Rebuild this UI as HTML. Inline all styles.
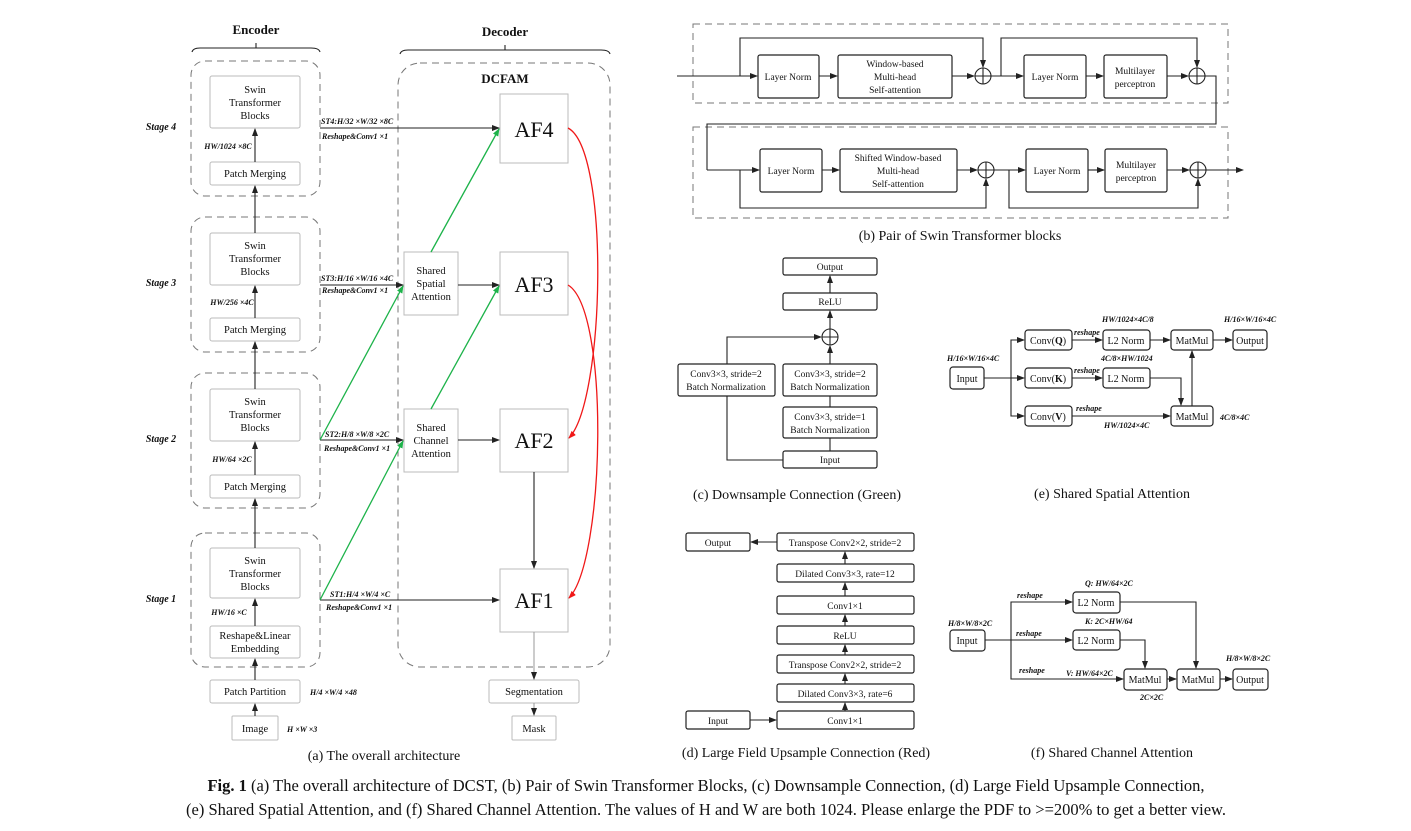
<!DOCTYPE html>
<html><head><meta charset="utf-8"><style>
html,body{margin:0;padding:0;background:#fff;}
svg{display:block;font-family:"Liberation Serif",serif;}
.b{fill:#fff;stroke:#bbb;stroke-width:1;}
.k{fill:#fff;stroke:#222;stroke-width:1.2;}
.d{fill:none;stroke:#777;stroke-width:1;stroke-dasharray:7,5;}
.l{fill:none;stroke:#222;stroke-width:1.1;}
.g{fill:none;stroke:#1db34a;stroke-width:1.3;}
.r{fill:none;stroke:#f01818;stroke-width:1.3;}
text{fill:#111;}
.t{font-size:10.5px;text-anchor:middle;}
.s{font-size:8px;font-style:italic;font-weight:bold;}
.cap{font-size:14px;text-anchor:middle;}
</style></head><body>
<svg width="1411" height="831" viewBox="0 0 1411 831" xmlns="http://www.w3.org/2000/svg">
<defs>
<marker id="a" markerWidth="8" markerHeight="6" refX="7" refY="3" orient="auto" markerUnits="userSpaceOnUse"><path d="M0,0 L8,3 L0,6z" fill="#222"/></marker>
<marker id="ag" markerWidth="8" markerHeight="6" refX="7" refY="3" orient="auto" markerUnits="userSpaceOnUse"><path d="M0,0 L8,3 L0,6z" fill="#1db34a"/></marker>
<marker id="ar" markerWidth="8" markerHeight="6" refX="7" refY="3" orient="auto" markerUnits="userSpaceOnUse"><path d="M0,0 L8,3 L0,6z" fill="#f01818"/></marker>
</defs>

<!-- ===== Panel a ===== -->
<text x="256" y="34" font-size="13" font-weight="bold" text-anchor="middle">Encoder</text>
<text x="505" y="36" font-size="13" font-weight="bold" text-anchor="middle">Decoder</text>
<path class="l" d="M192,52 Q193,48 200,48 L311,48 Q319,48 320,52 M256,48 V43"/>
<path class="l" d="M400,54 Q401,50 408,50 L601,50 Q609,50 610,54 M505,50 V45"/>

<rect class="d" x="191" y="61" width="129" height="135" rx="14"/>
<rect class="d" x="191" y="217" width="129" height="135" rx="14"/>
<rect class="d" x="191" y="373" width="129" height="135" rx="14"/>
<rect class="d" x="191" y="533" width="129" height="134" rx="14"/>
<rect class="d" x="398" y="63" width="212" height="604" rx="22"/>
<text x="505" y="83" font-size="13" font-weight="bold" text-anchor="middle">DCFAM</text>

<g font-size="10" font-style="italic" font-weight="bold" text-anchor="middle">
<text x="161" y="130">Stage 4</text><text x="161" y="286">Stage 3</text>
<text x="161" y="442">Stage 2</text><text x="161" y="602">Stage 1</text>
</g>

<!-- encoder boxes -->
<rect class="b" x="210" y="76" width="90" height="52" rx="2"/>
<text class="t" x="255" y="93">Swin</text><text class="t" x="255" y="106">Transformer</text><text class="t" x="255" y="119">Blocks</text>
<rect class="b" x="210" y="162" width="90" height="23" rx="2"/><text class="t" x="255" y="177">Patch Merging</text>
<rect class="b" x="210" y="233" width="90" height="52" rx="2"/>
<text class="t" x="255" y="249">Swin</text><text class="t" x="255" y="262">Transformer</text><text class="t" x="255" y="275">Blocks</text>
<rect class="b" x="210" y="318" width="90" height="23" rx="2"/><text class="t" x="255" y="333">Patch Merging</text>
<rect class="b" x="210" y="389" width="90" height="52" rx="2"/>
<text class="t" x="255" y="405">Swin</text><text class="t" x="255" y="418">Transformer</text><text class="t" x="255" y="431">Blocks</text>
<rect class="b" x="210" y="475" width="90" height="23" rx="2"/><text class="t" x="255" y="490">Patch Merging</text>
<rect class="b" x="210" y="548" width="90" height="50" rx="2"/>
<text class="t" x="255" y="564">Swin</text><text class="t" x="255" y="577">Transformer</text><text class="t" x="255" y="590">Blocks</text>
<rect class="b" x="210" y="626" width="90" height="32" rx="2"/>
<text class="t" x="255" y="639">Reshape&amp;Linear</text><text class="t" x="255" y="652">Embedding</text>
<rect class="b" x="210" y="680" width="90" height="23" rx="2"/><text class="t" x="255" y="695">Patch Partition</text>
<rect class="b" x="232" y="716" width="46" height="24" rx="1"/><text class="t" x="255" y="732">Image</text>

<g class="l" marker-end="url(#a)">
<path d="M255,716 V704"/><path d="M255,680 V659"/><path d="M255,626 V599"/>
<path d="M255,548 V499"/><path d="M255,475 V442"/><path d="M255,389 V342"/>
<path d="M255,318 V286"/><path d="M255,233 V186"/><path d="M255,162 V129"/>
</g>
<g class="s" text-anchor="middle">
<text x="228" y="149">HW/1024 ×8C</text><text x="232" y="305">HW/256 ×4C</text>
<text x="232" y="462">HW/64 ×2C</text><text x="229" y="615">HW/16 ×C</text>
<text x="310" y="695" text-anchor="start">H/4 ×W/4 ×48</text>
<text x="287" y="732" text-anchor="start">H ×W ×3</text>
</g>

<!-- decoder -->
<rect class="b" x="500" y="94" width="68" height="69"/><text x="534" y="137" font-size="22" text-anchor="middle">AF4</text>
<rect class="b" x="500" y="252" width="68" height="63"/><text x="534" y="292" font-size="22" text-anchor="middle">AF3</text>
<rect class="b" x="500" y="409" width="68" height="63"/><text x="534" y="448" font-size="22" text-anchor="middle">AF2</text>
<rect class="b" x="500" y="569" width="68" height="63"/><text x="534" y="608" font-size="22" text-anchor="middle">AF1</text>
<rect class="b" x="404" y="252" width="54" height="63"/>
<text class="t" x="431" y="274">Shared</text><text class="t" x="431" y="287">Spatial</text><text class="t" x="431" y="300">Attention</text>
<rect class="b" x="404" y="409" width="54" height="63"/>
<text class="t" x="431" y="431">Shared</text><text class="t" x="431" y="444">Channel</text><text class="t" x="431" y="457">Attention</text>
<rect class="b" x="489" y="680" width="90" height="23" rx="2"/><text class="t" x="534" y="695">Segmentation</text>
<rect class="b" x="512" y="716" width="44" height="24" rx="1"/><text class="t" x="534" y="732">Mask</text>

<g class="l" marker-end="url(#a)">
<path d="M320,128 H499"/><path d="M320,285 H403"/><path d="M458,285 H499"/>
<path d="M320,440 H403"/><path d="M458,440 H499"/><path d="M320,600 H499"/>
<path d="M534,472 V568"/>
</g>
<path d="M534,632 V679" stroke="#999" fill="none" marker-end="url(#a)"/>
<path d="M534,703 V715" stroke="#999" fill="none" marker-end="url(#a)"/>
<g class="s">
<text x="321" y="124">ST4:H/32 ×W/32 ×8C</text><text x="322" y="139">Reshape&amp;Conv1 ×1</text>
<text x="321" y="281">ST3:H/16 ×W/16 ×4C</text><text x="322" y="293">Reshape&amp;Conv1 ×1</text>
<text x="325" y="437">ST2:H/8 ×W/8 ×2C</text><text x="324" y="451">Reshape&amp;Conv1 ×1</text>
<text x="330" y="597">ST1:H/4 ×W/4 ×C</text><text x="326" y="610">Reshape&amp;Conv1 ×1</text>
</g>
<g class="g" marker-end="url(#ag)">
<path d="M320,440 L403,286"/><path d="M320,600 L403,441"/>
<path d="M431,252 L499,129"/><path d="M431,409 L499,286"/>
</g>
<g class="r" marker-end="url(#ar)">
<path d="M568,128 C610,150 605,400 569,438"/>
<path d="M568,285 C610,310 605,560 569,598"/>
</g>
<text class="cap" x="384" y="760">(a) The overall architecture</text>

<!-- ===== Panel b ===== -->
<rect class="d" x="693" y="24" width="535" height="79" stroke-dasharray="3,2" stroke="#999"/>
<rect class="d" x="693" y="127" width="535" height="91" stroke-dasharray="3,2" stroke="#999"/>
<g font-size="9.5" text-anchor="middle">
<rect class="k" x="758" y="55" width="61" height="43" rx="2"/><text x="788" y="80">Layer Norm</text>
<rect class="k" x="838" y="55" width="114" height="43" rx="2"/><text x="895" y="67">Window-based</text><text x="895" y="80">Multi-head</text><text x="895" y="93">Self-attention</text>
<rect class="k" x="1024" y="55" width="62" height="43" rx="2"/><text x="1055" y="80">Layer Norm</text>
<rect class="k" x="1104" y="55" width="63" height="43" rx="2"/><text x="1135" y="74">Multilayer</text><text x="1135" y="87">perceptron</text>
<rect class="k" x="760" y="149" width="62" height="43" rx="2"/><text x="791" y="174">Layer Norm</text>
<rect class="k" x="840" y="149" width="117" height="43" rx="2"/><text x="898" y="161">Shifted Window-based</text><text x="898" y="174">Multi-head</text><text x="898" y="187">Self-attention</text>
<rect class="k" x="1026" y="149" width="62" height="43" rx="2"/><text x="1057" y="174">Layer Norm</text>
<rect class="k" x="1105" y="149" width="62" height="43" rx="2"/><text x="1136" y="168">Multilayer</text><text x="1136" y="181">perceptron</text>
</g>
<g class="l">
<circle cx="983" cy="76" r="8"/><path d="M975,76 H991 M983,68 V84"/>
<circle cx="1197" cy="76" r="8"/><path d="M1189,76 H1205 M1197,68 V84"/>
<circle cx="986" cy="170" r="8"/><path d="M978,170 H994 M986,162 V178"/>
<circle cx="1198" cy="170" r="8"/><path d="M1190,170 H1206 M1198,162 V178"/>
<path d="M1205,76 H1216 V124 H707 V170"/>
</g>
<g class="l" marker-end="url(#a)">
<path d="M677,76 H757"/><path d="M819,76 H837"/><path d="M952,76 H974"/><path d="M991,76 H1023"/><path d="M1086,76 H1103"/><path d="M1167,76 H1188"/>
<path d="M740,76 V38 H983 V67"/><path d="M1001,76 V38 H1197 V67"/>
<path d="M707,170 H759"/><path d="M822,170 H839"/><path d="M957,170 H977"/><path d="M994,170 H1025"/><path d="M1088,170 H1104"/><path d="M1167,170 H1189"/><path d="M1206,170 H1243"/>
<path d="M740,170 V208 H986 V179"/><path d="M1009,170 V208 H1198 V179"/>
</g>
<text class="cap" x="960" y="240">(b) Pair of Swin Transformer blocks</text>

<!-- ===== Panel c ===== -->
<g font-size="9.5" text-anchor="middle">
<rect class="k" x="783" y="258" width="94" height="17" rx="2"/><text x="830" y="270">Output</text>
<rect class="k" x="783" y="293" width="94" height="17" rx="2"/><text x="830" y="305">ReLU</text>
<rect class="k" x="783" y="364" width="94" height="32" rx="2"/><text x="830" y="377">Conv3×3, stride=2</text><text x="830" y="390">Batch Normalization</text>
<rect class="k" x="783" y="407" width="94" height="31" rx="2"/><text x="830" y="420">Conv3×3, stride=1</text><text x="830" y="433">Batch Normalization</text>
<rect class="k" x="783" y="451" width="94" height="17" rx="2"/><text x="830" y="463">Input</text>
<rect class="k" x="678" y="364" width="97" height="32" rx="2"/><text x="726" y="377">Conv3×3, stride=2</text><text x="726" y="390">Batch Normalization</text>
</g>
<g class="l">
<circle cx="830" cy="337" r="8"/><path d="M822,337 H838 M830,329 V345"/>
<path d="M830,451 V438 M830,407 V396 M783,460 H727 V396"/>
</g>
<g class="l" marker-end="url(#a)">
<path d="M830,364 V346"/><path d="M830,329 V311"/><path d="M830,293 V276"/><path d="M727,364 V337 H821"/>
</g>
<text class="cap" x="797" y="499">(c) Downsample Connection (Green)</text>

<!-- ===== Panel d ===== -->
<g font-size="9.5" text-anchor="middle">
<rect class="k" x="686" y="533" width="64" height="18" rx="2"/><text x="718" y="546">Output</text>
<rect class="k" x="777" y="533" width="137" height="18" rx="2"/><text x="845" y="546">Transpose Conv2×2, stride=2</text>
<rect class="k" x="777" y="564" width="137" height="18" rx="2"/><text x="845" y="577">Dilated Conv3×3, rate=12</text>
<rect class="k" x="777" y="596" width="137" height="18" rx="2"/><text x="845" y="609">Conv1×1</text>
<rect class="k" x="777" y="626" width="137" height="18" rx="2"/><text x="845" y="639">ReLU</text>
<rect class="k" x="777" y="655" width="137" height="18" rx="2"/><text x="845" y="668">Transpose Conv2×2, stride=2</text>
<rect class="k" x="777" y="684" width="137" height="18" rx="2"/><text x="845" y="697">Dilated Conv3×3, rate=6</text>
<rect class="k" x="777" y="711" width="137" height="18" rx="2"/><text x="845" y="724">Conv1×1</text>
<rect class="k" x="686" y="711" width="64" height="18" rx="2"/><text x="718" y="724">Input</text>
</g>
<g class="l" marker-end="url(#a)">
<path d="M750,720 H776"/><path d="M845,711 V703"/><path d="M845,684 V674"/><path d="M845,655 V645"/>
<path d="M845,626 V615"/><path d="M845,596 V583"/><path d="M845,564 V552"/><path d="M777,542 H751"/>
</g>
<text class="cap" x="806" y="757">(d) Large Field Upsample Connection (Red)</text>

<!-- ===== Panel e ===== -->
<g font-size="10" text-anchor="middle">
<rect class="k" x="950" y="367" width="34" height="22" rx="3"/><text x="967" y="382">Input</text>
<rect class="k" x="1025" y="330" width="47" height="20" rx="3"/><text x="1048" y="344">Conv(<tspan font-weight="bold">Q</tspan>)</text>
<rect class="k" x="1025" y="368" width="47" height="20" rx="3"/><text x="1048" y="382">Conv(<tspan font-weight="bold">K</tspan>)</text>
<rect class="k" x="1025" y="406" width="47" height="20" rx="3"/><text x="1048" y="420">Conv(<tspan font-weight="bold">V</tspan>)</text>
<rect class="k" x="1103" y="330" width="47" height="20" rx="3"/><text x="1126" y="344">L2 Norm</text>
<rect class="k" x="1103" y="368" width="47" height="20" rx="3"/><text x="1126" y="382">L2 Norm</text>
<rect class="k" x="1171" y="330" width="42" height="20" rx="3"/><text x="1192" y="344">MatMul</text>
<rect class="k" x="1171" y="406" width="42" height="20" rx="3"/><text x="1192" y="420">MatMul</text>
<rect class="k" x="1233" y="330" width="34" height="20" rx="3"/><text x="1250" y="344">Output</text>
</g>
<g class="l" marker-end="url(#a)">
<path d="M984,378 H1024"/><path d="M1011,378 V340 H1024"/><path d="M1011,378 V416 H1024"/>
<path d="M1072,340 H1102"/><path d="M1072,378 H1102"/><path d="M1072,416 H1170"/>
<path d="M1150,340 H1170"/><path d="M1213,340 H1232"/><path d="M1150,378 H1181 V405"/><path d="M1192,406 V351"/>
</g>
<g class="s" font-size="7.5">
<text x="1102" y="322">HW/1024×4C/8</text><text x="1224" y="322">H/16×W/16×4C</text>
<text x="947" y="361">H/16×W/16×4C</text><text x="1101" y="361">4C/8×HW/1024</text>
<text x="1074" y="335">reshape</text><text x="1074" y="373">reshape</text><text x="1076" y="411">reshape</text>
<text x="1104" y="428">HW/1024×4C</text><text x="1220" y="420">4C/8×4C</text>
</g>
<text class="cap" x="1112" y="498">(e) Shared Spatial Attention</text>

<!-- ===== Panel f ===== -->
<g font-size="10" text-anchor="middle">
<rect class="k" x="950" y="630" width="35" height="21" rx="3"/><text x="967" y="644">Input</text>
<rect class="k" x="1073" y="592" width="47" height="21" rx="3"/><text x="1096" y="606">L2 Norm</text>
<rect class="k" x="1073" y="630" width="47" height="20" rx="3"/><text x="1096" y="644">L2 Norm</text>
<rect class="k" x="1124" y="669" width="43" height="21" rx="3"/><text x="1145" y="683">MatMul</text>
<rect class="k" x="1177" y="669" width="43" height="21" rx="3"/><text x="1198" y="683">MatMul</text>
<rect class="k" x="1233" y="669" width="35" height="21" rx="3"/><text x="1250" y="683">Output</text>
</g>
<g class="l" marker-end="url(#a)">
<path d="M985,640 H1072"/><path d="M1011,640 V602 H1072"/><path d="M1011,640 V679 H1123"/>
<path d="M1120,640 H1145 V668"/><path d="M1120,602 H1196 V668"/>
<path d="M1167,679 H1176"/><path d="M1220,679 H1232"/>
</g>
<g class="s" font-size="7.5">
<text x="1085" y="586">Q: HW/64×2C</text><text x="1085" y="624">K: 2C×HW/64</text>
<text x="1066" y="676">V: HW/64×2C</text>
<text x="1017" y="598">reshape</text><text x="1016" y="636">reshape</text><text x="1019" y="673">reshape</text>
<text x="948" y="626">H/8×W/8×2C</text><text x="1226" y="661">H/8×W/8×2C</text><text x="1140" y="700">2C×2C</text>
</g>
<text class="cap" x="1112" y="757">(f) Shared Channel Attention</text>

<!-- bottom caption -->
<g font-size="16.5" text-anchor="middle">
<text x="706" y="791"><tspan font-weight="bold">Fig. 1</tspan> (a) The overall architecture of DCST, (b) Pair of Swin Transformer Blocks, (c) Downsample Connection, (d) Large Field Upsample Connection,</text>
<text x="706" y="815">(e) Shared Spatial Attention, and (f) Shared Channel Attention. The values of H and W are both 1024. Please enlarge the PDF to &gt;=200% to get a better view.</text>
</g>
</svg>
</body></html>
